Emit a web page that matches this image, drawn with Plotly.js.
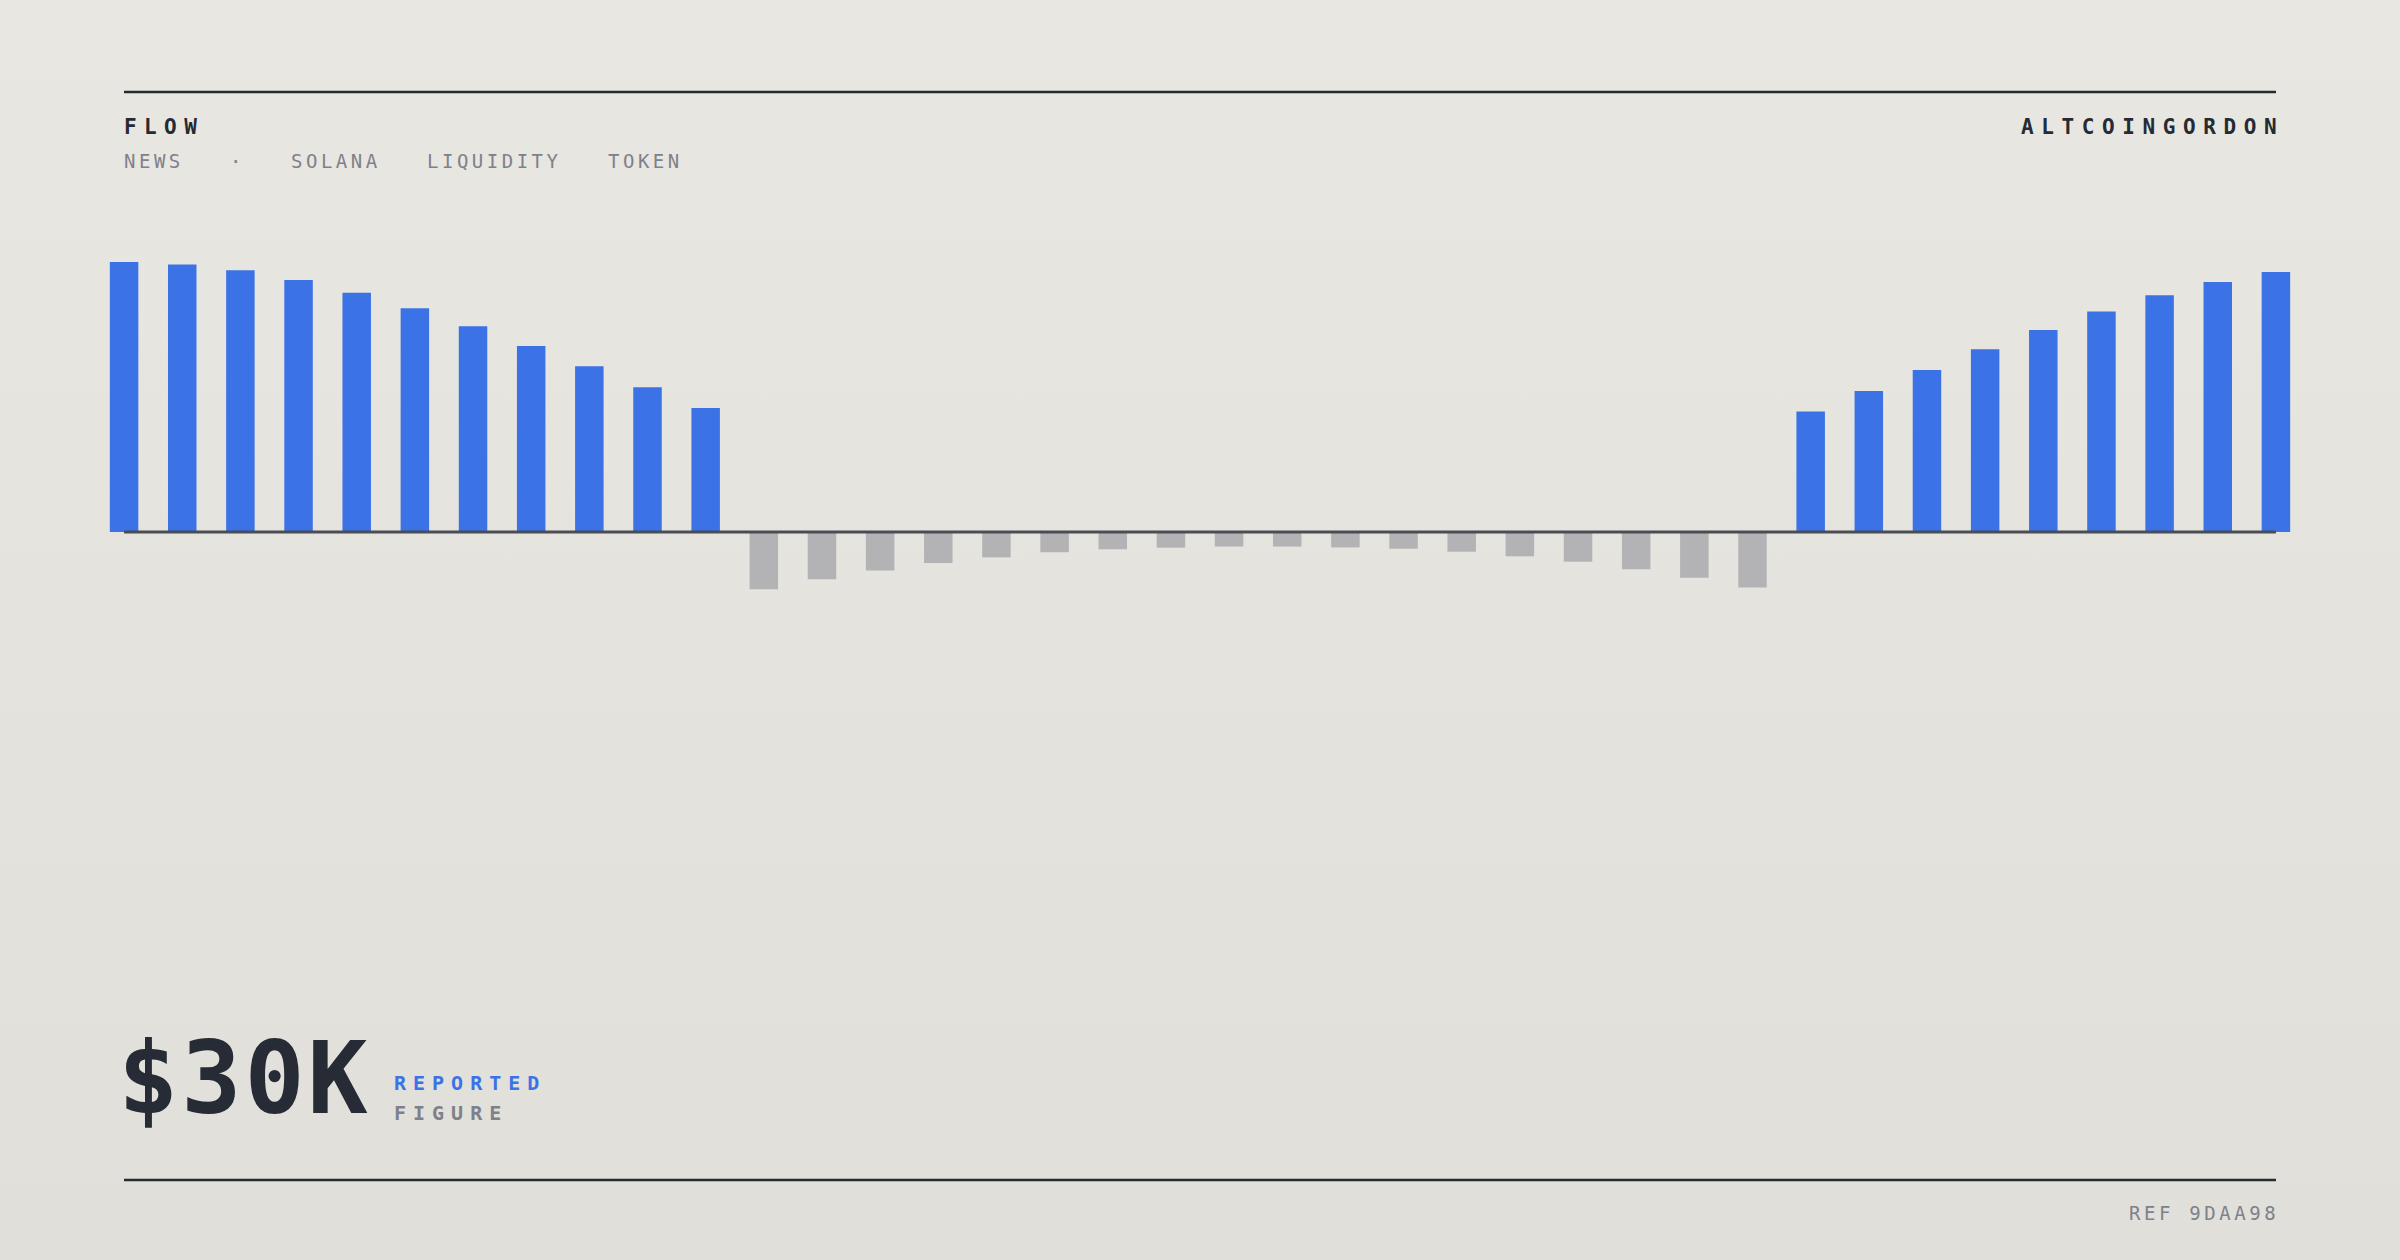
<!DOCTYPE html>
<html>
<head>
<meta charset="utf-8">
<script src="https://cdn.plot.ly/plotly-3.0.1.min.js"></script>
<style>
  html, body { margin: 0; padding: 0; }
  body { width: 2400px; height: 1260px; overflow: hidden;
         background: linear-gradient(180deg, #e9e7e1 0%, #e0dfda 100%); }
  #chart { width: 2400px; height: 1260px; }
</style>
</head>
<body>
<div id="chart"></div>
<script>
// ---------------- data ----------------
// net flow per period (relative units)
const inflowStart = [100, 99.1, 96.9, 93.3, 88.6, 82.9, 76.2, 68.9, 61.4, 53.6, 45.9];
const outflowMid  = [-21.2, -17.5, -14.3, -11.5, -9.4, -7.5, -6.4, -5.8, -5.4, -5.4,
                     -5.7, -6.2, -7.3, -9.0, -11.0, -13.8, -16.9, -20.6];
const inflowEnd   = [44.6, 52.2, 60.0, 67.7, 74.8, 81.7, 87.7, 92.6, 96.3];
const flowValues  = inflowStart.concat(outflowMid, inflowEnd);
const periods     = flowValues.map((_, i) => i);

const titleText   = "FLOW";
const tagWords    = ["NEWS", "·", "SOLANA", "LIQUIDITY", "TOKEN"];
const brandText   = "ALTCOINGORDON";
const figureValue = "$30K";
const figureLine1 = "REPORTED";
const figureLine2 = "FIGURE";
const refText     = "REF 9DAA98";

// ---------------- styling ----------------
const BLUE = "#3b73e6", GREY_BAR = "#b3b3b5", INK = "#272b35", MUTED = "#7e818a";
const FONT = "DejaVu Sans Mono, Liberation Mono, monospace";

const W = 2400, H = 1260, ML = 95, MR = 95, MT = 235, MB = 620;
const PW = W - ML - MR, PH = H - MT - MB;
const px = v => (v - ML) / PW;          // pixel x -> paper
const py = v => (H - MB - v) / PH;      // pixel y -> paper

function spaced(t, ls) { return '<span style="letter-spacing:' + ls + 'px">' + t + '</span>'; }
function ann(text, x, y, size, color, weight, ls, anchor) {
  return {
    text: spaced(text, ls), xref: "paper", yref: "paper",
    x: px(x), y: py(y), xanchor: anchor || "left", yanchor: "middle",
    showarrow: false, borderpad: 0, borderwidth: 0,
    font: { family: FONT, size: size, color: color, weight: weight }
  };
}

const trace = {
  type: "bar",
  x: periods,
  y: flowValues,
  marker: { color: flowValues.map(v => v >= 0 ? BLUE : GREY_BAR), line: { width: 0 } },
  hoverinfo: "skip"
};

const tagX = [124, 230, 291, 427, 608];
const annotations = [
  ann(titleText, 124, 127, 21, "#262a33", 700, 7.4),
  ann(brandText, 2284, 127, 21, "#262a33", 700, 7.6, "right"),
  ann(figureValue, 118, 1078, 100, INK, 700, 3),
  ann(figureLine1, 394, 1083, 20, BLUE, 700, 7),
  ann(figureLine2, 394, 1113, 20, MUTED, 700, 7),
  ann(refText, 2279, 1213, 19, MUTED, 400, 3.6, "right")
];
tagWords.forEach((w, i) => annotations.push(ann(w, tagX[i], 161, 19, MUTED, 400, 3.5)));

const layout = {
  width: W, height: H,
  margin: { l: ML, r: MR, t: MT, b: MB, pad: 0 },
  paper_bgcolor: "rgba(0,0,0,0)", plot_bgcolor: "rgba(0,0,0,0)",
  showlegend: false, bargap: 0.51,
  xaxis: { range: [-0.5, periods.length - 0.5], visible: false, fixedrange: true },
  yaxis: { range: [-40, 110], visible: false, fixedrange: true },
  shapes: [
    { type: "line", xref: "paper", yref: "paper", x0: px(124), x1: px(2276), y0: py(92), y1: py(92),
      line: { color: "#262a33", width: 2.5 } },
    { type: "line", xref: "paper", yref: "paper", x0: px(124), x1: px(2276), y0: py(1180), y1: py(1180),
      line: { color: "#262a33", width: 2.5 } },
    { type: "line", xref: "x", yref: "y", x0: periods[0], x1: periods[periods.length - 1], y0: 0, y1: 0,
      layer: "above", line: { color: "#4a4d54", width: 3 } }
  ],
  annotations: annotations
};

Plotly.newPlot("chart", [trace], layout, { displayModeBar: false, staticPlot: true });
</script>
</body>
</html>
